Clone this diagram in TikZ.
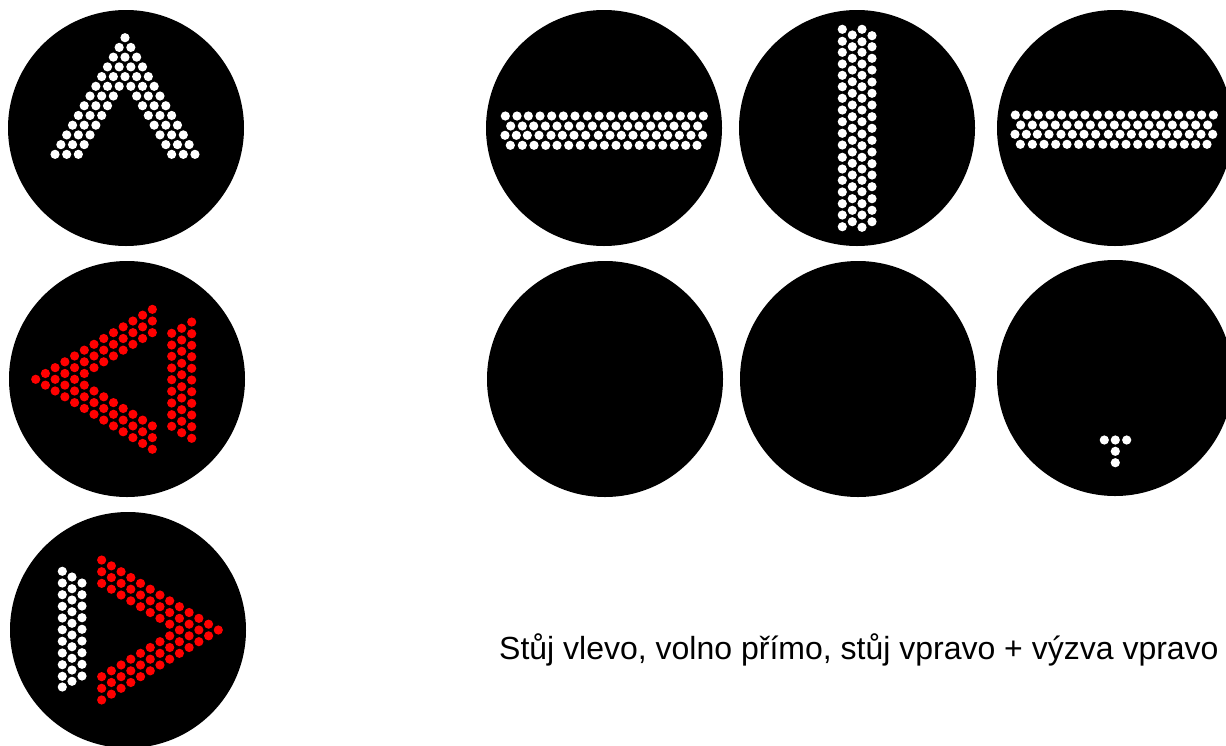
\documentclass[tikz,border=0pt]{standalone}
\usepackage{fontspec}
\setmainfont{Liberation Sans}
\tikzset{
  lens/.style={fill=black},
  lamp/.style={fill=white},
  lampred/.style={fill=red}
}
\newcommand{\lensat}[2]{\fill[lens] (#1,#2) circle[radius=118];}
\newcommand{\dotat}[3]{\fill[#1] (#2,#3) circle[radius=4.6];}
% chevron: origin, row vector, half-step vector
\newcommand{\chevron}[7]{%
  \foreach \i in {0,...,12}{%
    \foreach \k in {0,...,\i}{%
      \pgfmathtruncatemacro{\keep}{(\k<3)||(\k>\i-3)}%
      \ifnum\keep=1
        \pgfmathsetmacro{\px}{#2+\i*#4+(2*\k-\i)*#6}%
        \pgfmathsetmacro{\py}{#3+\i*#5+(2*\k-\i)*#7}%
        \dotat{#1}{\px}{\py}%
      \fi
    }%
  }%
}
% list of x values (zoom units) in a row
\newcommand{\hrow}[4]{\foreach \v in {#4}{\pgfmathsetmacro{\px}{#2+\v/3}\dotat{lamp}{\px}{#3}}}
\newcommand{\vcol}[4]{\foreach \v in {#4}{\dotat{#1}{#2}{\v}}}
\newcommand{\hbarat}[2]{%
  \begin{scope}[shift={(#1,#2)}]
  \hrow{lamp}{0}{116.0}{31,66,100,135,170,205,240,277,312,347,382,417,452,487,521,556,590,625}
  \hrow{lamp}{0}{126.0}{47,82,116,151,186,221,256,292,328,363,398,432,467,502,537,572,608}
  \hrow{lamp}{0}{135.3}{30,64,97,132,168,202,237,272,310,345,379,414,449,484,518,553,588,623}
  \hrow{lamp}{0}{145.3}{46,82,117,152,186,221,256,293,328,363,398,433,468,503,538,572,606}
  \end{scope}}
\begin{document}
\begin{tikzpicture}[x=1pt,y=-1pt]
\useasboundingbox (0,0) rectangle (1226,745);
\clip (0,0) rectangle (1226,745);
% lenses
\lensat{126}{128}\lensat{127}{379}\lensat{128}{630}
\lensat{604}{128}\lensat{857}{128}\lensat{1115}{128}
\lensat{605}{379}\lensat{858}{379}\lensat{1115}{378}
% left column
\chevron{lamp}{125}{37.7}{0}{9.72}{5.83}{0}
\chevron{lampred}{35.7}{379.3}{9.72}{0}{0}{5.83}
\chevron{lampred}{218.3}{630}{-9.72}{0}{0}{5.83}
\vcol{lampred}{171.7}{}{333.3,345,356.3,368,379.7,391.3,403,414.7,426.3}
\vcol{lampred}{181.7}{}{328.3,340,351.3,363.3,374.7,386.7,398,409.7,421.3,432.7}
\vcol{lampred}{191.7}{}{322,333.7,345.3,356.7,368.3,380,391.7,403.3,415,426.7,438.3}
\vcol{lamp}{62.3}{}{571.3,583,594.7,606.3,618,629.7,641.3,653,664.7,676.3,687}
\vcol{lamp}{72}{}{577,588.7,600,611.7,623.3,635,646.7,658.3,670,681.3}
\vcol{lamp}{82}{}{583,594.7,606,617.7,629.3,641,652.7,664.3,676}
% horizontal bars
\hbarat{495}{0}
\hbarat{1005}{-1}
% vertical bar
\vcol{lamp}{842.3}{}{29.3,41.3,52.3,64,75.3,86.7,98.3,110,121.7,133.3,145,157.3,169,180.3,192,203.7,215,226.7}
\vcol{lamp}{852.3}{}{35,46.7,58.3,70,81.7,93.3,105,116.7,128.3,140.3,152,163.3,175,186.7,198.7,210.3,221.7}
\vcol{lamp}{862}{}{29.3,41.7,52.3,64,75.3,86.7,98.3,110,121.7,134,145.7,157.3,169,180.3,191.7,203.7,215,227.3}
\vcol{lamp}{872}{}{35.7,46.7,58.3,70,82,93.3,105,116.7,128.3,140.3,152,163.7,175,186.7,198.7,210.3,221.7}
% small T
\dotat{lamp}{1104.3}{440}\dotat{lamp}{1115.3}{440}\dotat{lamp}{1126.7}{440}
\dotat{lamp}{1115.3}{451.3}\dotat{lamp}{1115.3}{462.7}
% caption
\node[anchor=base west,inner sep=0pt,font=\fontsize{32}{38}\selectfont] (caption) at (499,659.5) {Stůj vlevo, volno přímo, stůj vpravo + výzva vpravo};
\end{tikzpicture}
\end{document}
